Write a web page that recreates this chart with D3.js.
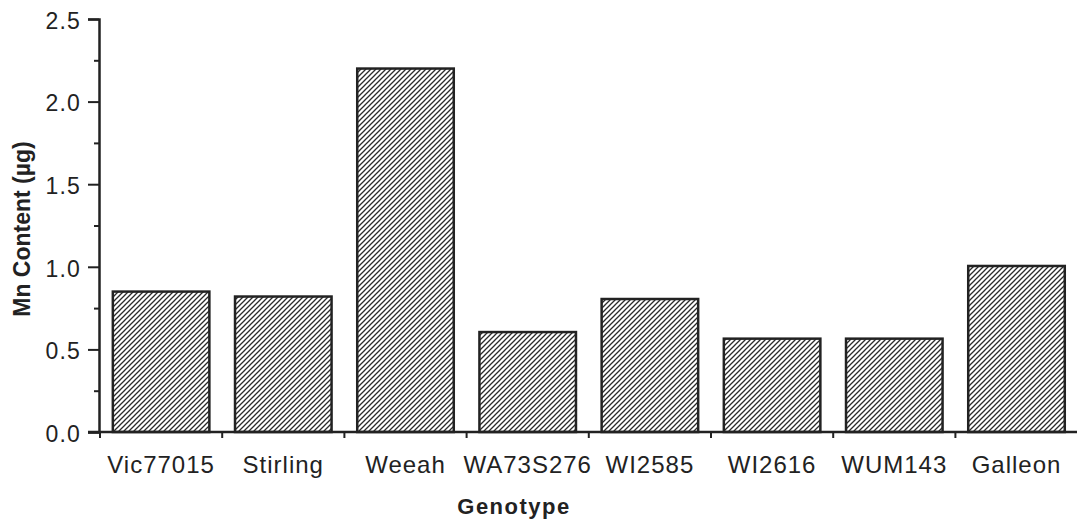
<!DOCTYPE html>
<html>
<head>
<meta charset="utf-8">
<script src="https://cdn.jsdelivr.net/npm/d3@7"></script>
<style>
  body { margin: 0; background: #fff; }
  text { font-family: "Liberation Sans", Arial, sans-serif; fill: #222; }
</style>
</head>
<body>
<div id="chart-container"></div>
<script>
const genotypes = ["Vic77015", "Stirling", "Weeah", "WA73S276", "WI2585", "WI2616", "WUM143", "Galleon"];
const mnContent = [0.85, 0.82, 2.2, 0.605, 0.805, 0.565, 0.565, 1.005];
const majorTicks = [0, 0.5, 1.0, 1.5, 2.0, 2.5];
const minorTicks = [0.25, 0.75, 1.25, 1.75, 2.25];

const W = 1077, H = 524;
const ink = "#222";

const svg = d3.select("#chart-container")
  .append("svg")
  .attr("width", W)
  .attr("height", H);

// hatch pattern for the bars, "/" direction
const tile = 5;
const pat = svg.append("defs").append("pattern")
  .attr("id", "hatch")
  .attr("patternUnits", "userSpaceOnUse")
  .attr("width", tile)
  .attr("height", tile);
pat.append("rect").attr("width", tile).attr("height", tile).attr("fill", "#fff");
pat.append("path")
  .attr("d", `M-1,${tile + 1} L${tile + 1},-1 M-1,1 L1,-1 M${tile - 1},${tile + 1} L${tile + 1},${tile - 1}`)
  .attr("stroke", "#2a2a2a").attr("stroke-width", 1.3);

const x = d3.scaleBand()
  .domain(genotypes)
  .range([100, 1077.6])
  .paddingInner(0.21)
  .paddingOuter(0.105);

const y = d3.scaleLinear().domain([0, 2.5]).range([432, 19]);

// bars
svg.append("g")
  .selectAll("rect")
  .data(genotypes)
  .join("rect")
  .attr("x", d => x(d))
  .attr("y", (d, i) => y(mnContent[i]))
  .attr("width", x.bandwidth())
  .attr("height", (d, i) => y(0) - y(mnContent[i]))
  .attr("fill", "url(#hatch)")
  .attr("stroke", ink)
  .attr("stroke-width", 2.5);

// y axis
const yAxis = svg.append("g")
  .attr("transform", "translate(99,0)")
  .call(d3.axisLeft(y).tickValues(majorTicks).tickFormat(d3.format(".1f")).tickSize(11).tickPadding(7));
yAxis.select(".domain").attr("stroke", ink).attr("stroke-width", 2.5);
yAxis.selectAll(".tick line").attr("stroke", ink).attr("stroke-width", 2);
yAxis.selectAll(".tick text")
  .attr("font-size", 23)
  .attr("letter-spacing", 1.2)
  .attr("dy", "0.4em")
  .attr("fill", ink)
  .attr("font-family", "Liberation Sans, Arial, sans-serif");

svg.append("g")
  .attr("transform", "translate(99,0)")
  .call(d3.axisLeft(y).tickValues(minorTicks).tickFormat("").tickSize(5))
  .call(g => g.select(".domain").remove())
  .selectAll(".tick line").attr("stroke", ink).attr("stroke-width", 2);

// x axis
const step = x.step();
svg.append("line")
  .attr("x1", 88).attr("x2", W)
  .attr("y1", y(0)).attr("y2", y(0))
  .attr("stroke", ink).attr("stroke-width", 2.5);

svg.append("g")
  .selectAll("line")
  .data(genotypes)
  .join("line")
  .attr("x1", d => x(d) - step * x.paddingInner() / 2)
  .attr("x2", d => x(d) - step * x.paddingInner() / 2)
  .attr("y1", y(0))
  .attr("y2", y(0) + 6)
  .attr("stroke", ink)
  .attr("stroke-width", 2);

svg.append("g")
  .selectAll("text")
  .data(genotypes)
  .join("text")
  .attr("x", d => x(d) + x.bandwidth() / 2)
  .attr("y", 473)
  .attr("text-anchor", "middle")
  .attr("font-size", 24)
  .attr("letter-spacing", 1)
  .text(d => d);

// axis titles
svg.append("text")
  .attr("x", 514)
  .attr("y", 514)
  .attr("text-anchor", "middle")
  .attr("font-size", 22)
  .attr("font-weight", "bold")
  .attr("letter-spacing", 1.5)
  .text("Genotype");

svg.append("text")
  .attr("transform", "translate(30,229) rotate(-90)")
  .attr("text-anchor", "middle")
  .attr("font-size", 23)
  .attr("font-weight", "bold")
  .text("Mn Content (µg)");
</script>
</body>
</html>
